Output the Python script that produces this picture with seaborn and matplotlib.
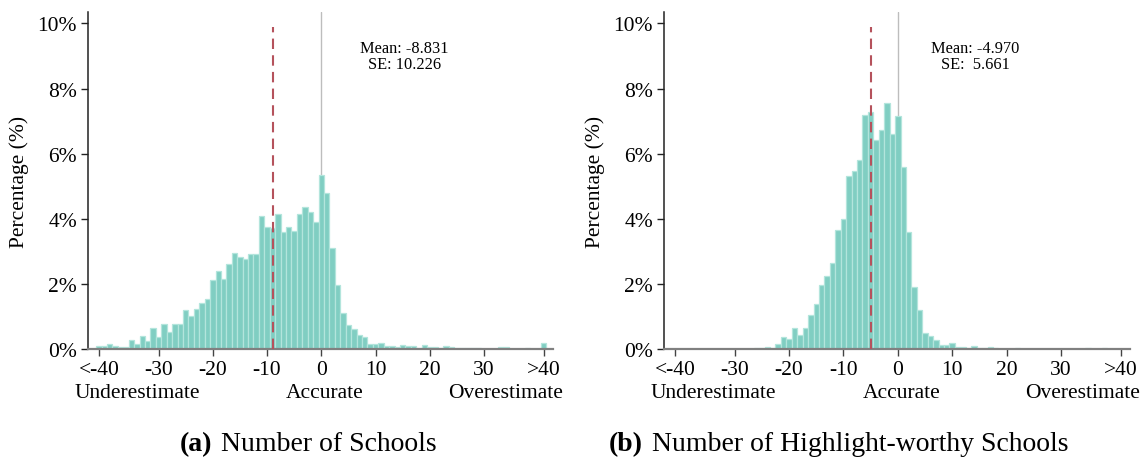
import matplotlib
matplotlib.use("Agg")
import matplotlib.pyplot as plt
import seaborn as sns
import numpy as np

# Gap between perceived and actual count (values clipped at -41 / 41)
gap_values = list(range(-41, 42))

# Share of respondents (%) at each gap value, panel (a): number of schools
schools_pct = [
    0.10, 0.10, 0.15, 0.10, 0.07, 0.05, 0.27, 0.15, 0.40, 0.25, 0.65,   # -41..-31
    0.37, 0.78, 0.53, 0.78, 0.76, 1.20, 1.02, 1.23, 1.42, 1.55,         # -30..-21
    2.13, 2.41, 2.16, 2.62, 2.95, 2.82, 2.75, 2.92, 2.92, 4.08,         # -20..-11
    3.75, 3.72, 4.15, 3.60, 3.76, 3.62, 4.15, 4.35, 4.21, 3.90,         # -10..-1
    5.35, 4.79, 3.11, 1.98, 1.10, 0.73, 0.62, 0.44, 0.38, 0.16,         # 0..9
    0.14, 0.17, 0.10, 0.10, 0.06, 0.13, 0.08, 0.08, 0.03, 0.13,         # 10..19
    0.05, 0.07, 0.03, 0.08, 0.07, 0.03, 0.04, 0.04, 0.04, 0.04,         # 20..29
    0.00, 0.00, 0.00, 0.06, 0.05, 0.00, 0.00, 0.00, 0.04, 0.00,         # 30..39
    0.00, 0.17,                                                         # 40..41
]

# Panel (b): number of highlight-worthy schools
highlight_pct = [
    0.00, 0.00, 0.00, 0.00, 0.00, 0.00, 0.00, 0.00, 0.00, 0.00, 0.00,   # -41..-31
    0.00, 0.00, 0.00, 0.00, 0.02, 0.02, 0.07, 0.04, 0.14, 0.37,         # -30..-21
    0.30, 0.63, 0.43, 0.63, 1.03, 1.37, 1.98, 2.23, 2.64, 3.65,         # -20..-11
    3.98, 5.32, 5.47, 5.80, 7.18, 7.27, 6.42, 6.74, 7.55, 6.60,         # -10..-1
    7.15, 5.59, 3.60, 1.91, 1.21, 0.50, 0.41, 0.29, 0.11, 0.13,         # 0..9
    0.17, 0.07, 0.07, 0.02, 0.10, 0.04, 0.02, 0.07, 0.04, 0.00,         # 10..19
    0.00, 0.00, 0.02, 0.00, 0.00, 0.00, 0.00, 0.00, 0.00, 0.00,         # 20..29
    0.00, 0.00, 0.00, 0.00, 0.00, 0.02, 0.00, 0.00, 0.02, 0.00,         # 30..39
    0.00, 0.00,                                                         # 40..41
]

means = [-8.831, -4.970]
ses = ["10.226", " 5.661"]

x_ticks = [-41, -30, -20, -10, 0, 10, 20, 30, 41]
x_tick_labels = ["<-40", "-30", "-20", "-10", "0", "10", "20", "30", ">40"]
y_ticks = [0, 2, 4, 6, 8, 10]
y_tick_labels = [f"{v}%" for v in y_ticks]

side_labels = ["Underestimate", "Accurate", "Overestimate"]
side_positions = [-34, 0.7, 34]

panel_tags = ["(a)", "(b)"]
panel_titles = ["Number of Schools", "Number of Highlight-worthy Schools"]

sns.set_style("white")
plt.rcParams["font.family"] = ["Liberation Serif", "DejaVu Serif"]
plt.rcParams.update({
    "text.color": "black",
    "axes.labelcolor": "black",
    "xtick.color": "black",
    "ytick.color": "black",
})

BAR_FACE = "#80cec2"
BAR_EDGE = "#b3e5dc"
MEAN_COLOR = "#b5525c"
FS = 15.5

fig = plt.figure(figsize=(11.44, 4.64), dpi=100)
W, H = 1144, 464
axes = [
    fig.add_axes([88 / W, 1 - 350 / H, (553 - 88) / W, (350 - 13) / H]),
    fig.add_axes([664 / W, 1 - 350 / H, (1130 - 664) / W, (350 - 13) / H]),
]

series = [schools_pct, highlight_pct]
text_x = [15.3, 14.3]

for i, ax in enumerate(axes):
    sns.histplot(x=gap_values, weights=series[i], discrete=True, ax=ax,
                 color=BAR_FACE, edgecolor=BAR_EDGE, linewidth=0.9,
                 alpha=1.0, shrink=1.0)
    ax.axvline(0, color="#bdbdbd", lw=1.0, zorder=0.5)
    ax.vlines(means[i], 0, 9.9, colors=MEAN_COLOR, lw=1.5,
              linestyles=(0, (5, 3)), zorder=3)

    ax.set_xlim(-43, 42.7)
    ax.set_ylim(0, 10.35)
    ax.set_xticks(x_ticks)
    ax.set_xticklabels(x_tick_labels, fontsize=FS)
    ax.set_yticks(y_ticks)
    ax.set_yticklabels(y_tick_labels, fontsize=FS)
    ax.set_xlabel("")
    ax.set_ylabel("Percentage (%)", fontsize=FS, labelpad=6)

    for side in ["top", "right"]:
        ax.spines[side].set_visible(False)
    ax.spines["left"].set_color("#222222")
    ax.spines["left"].set_linewidth(1.1)
    ax.spines["bottom"].set_color("#808080")
    ax.spines["bottom"].set_linewidth(1.6)
    ax.tick_params(axis="x", length=5, width=1.0, color="#444444", pad=3)
    ax.tick_params(axis="y", length=5, width=1.0, color="#222222", pad=3)
    ax.tick_params(bottom=True, left=True)

    for lab, pos in zip(side_labels, side_positions):
        ax.text(pos, -0.128, lab, transform=ax.get_xaxis_transform(),
                ha="center", va="center", fontsize=FS)

    ax.text(text_x[i], 9.0, f"Mean: {means[i]:.3f}\nSE: {ses[i]}",
            ha="center", va="center", fontsize=11.8, linespacing=1.05)

# Panel captions with bold tags
cap_y = 1 - 445 / H
fig.text(212 / W, cap_y, panel_tags[0], ha="right", va="center",
         fontsize=20, fontweight="bold")
fig.text(221 / W, cap_y, panel_titles[0], ha="left", va="center", fontsize=20)
fig.text(643 / W, cap_y, panel_tags[1], ha="right", va="center",
         fontsize=20, fontweight="bold")
fig.text(652 / W, cap_y, panel_titles[1], ha="left", va="center", fontsize=20)

fig.savefig("out.png", dpi=100, facecolor="white")
